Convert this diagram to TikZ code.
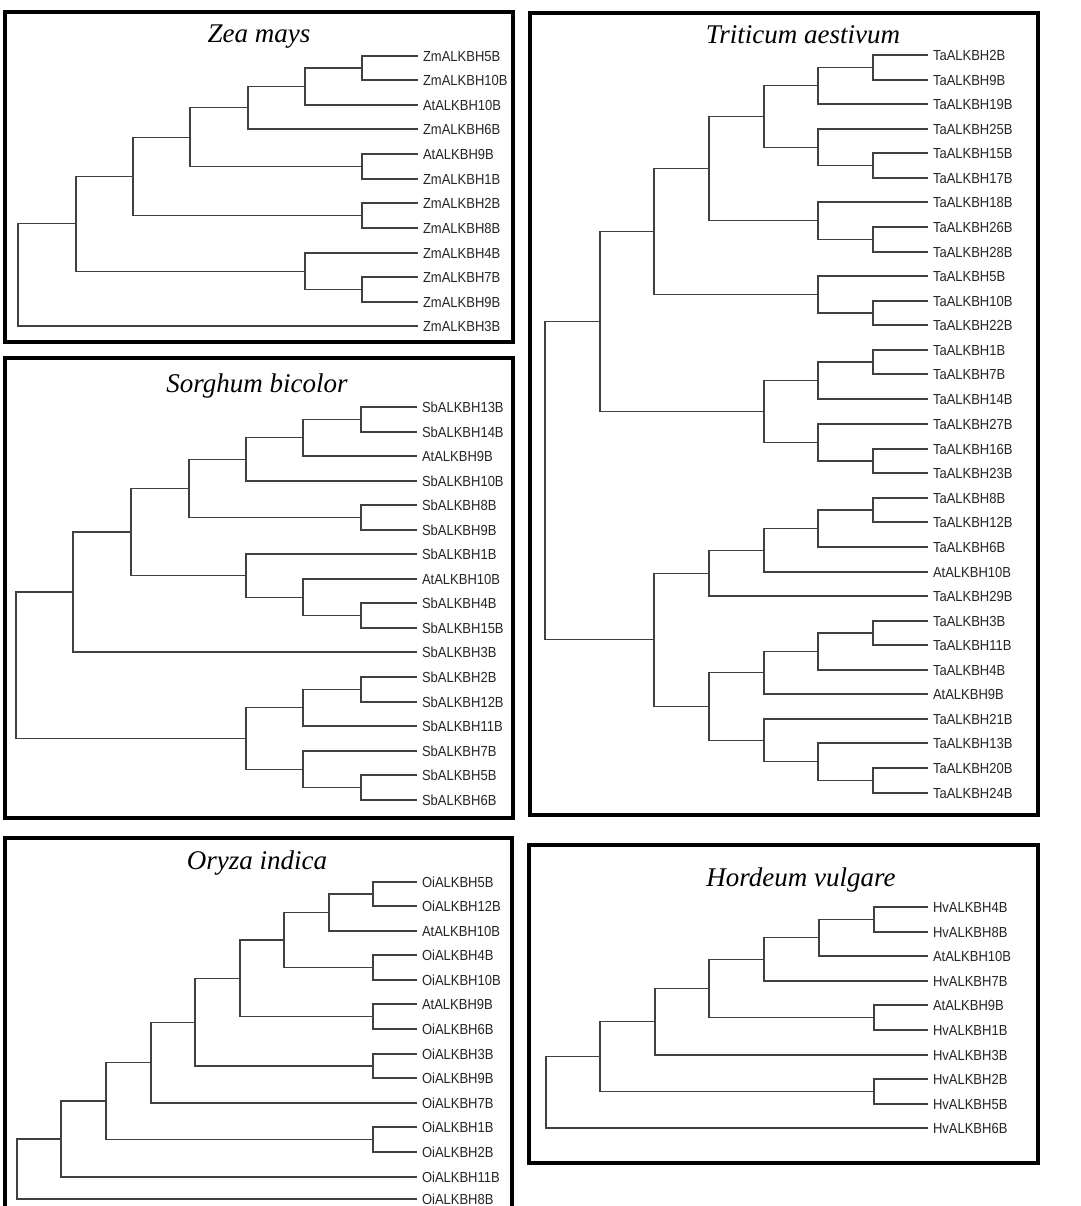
\documentclass[tikz,border=0pt]{standalone}
\usepackage{fontspec}
\setmainfont{Liberation Serif}
\newfontfamily\labfont{Liberation Sans}
\usetikzlibrary{calc}
\tikzset{
 lab/.style={anchor=west, inner sep=0pt, outer xsep=5pt, font=\labfont\fontsize{13}{13}\selectfont, text=black!85, text height=9.3pt, text depth=0pt, yscale=1.12},
 br/.style={draw=black!75, line width=1.2pt},
 frame/.style={draw=black, line width=3.5pt},
 ttl/.style={anchor=base, font=\itshape\fontsize{27}{27}\selectfont, inner sep=0pt}
}
\newcommand\mkleaf[4]{%
  \coordinate (#1) at (#2,#3);
  \node[lab] (#1t) at (#1) {#4};}
\newcommand\mkclade[4]{%
  \path let \p1=($(#3)!0.5!(#4)$) in (#2pt,\y1) coordinate (#1);
  \draw[br] (#1) |- (#3) (#1) |- (#4);}
\begin{document}
\begin{tikzpicture}[x=1pt,y=-1pt]
\fill[white] (0,0) rectangle (1080,1206);
\clip (0,0) rectangle (1080,1206);
% ---------- Zea mays ----------
\draw[frame] (5,12) rectangle (513,342);
\node[ttl] (zT) at (259,43) {Zea mays};
\mkleaf{z1}{418}{56}{ZmALKBH5B}
\mkleaf{z2}{418}{80}{ZmALKBH10B}
\mkleaf{z3}{418}{105}{AtALKBH10B}
\mkleaf{z4}{418}{129}{ZmALKBH6B}
\mkleaf{z5}{418}{154}{AtALKBH9B}
\mkleaf{z6}{418}{179}{ZmALKBH1B}
\mkleaf{z7}{418}{203}{ZmALKBH2B}
\mkleaf{z8}{418}{228}{ZmALKBH8B}
\mkleaf{z9}{418}{253}{ZmALKBH4B}
\mkleaf{z10}{418}{277}{ZmALKBH7B}
\mkleaf{z11}{418}{302}{ZmALKBH9B}
\mkleaf{z12}{418}{326}{ZmALKBH3B}
\mkclade{za}{362}{z1}{z2}
\mkclade{zb}{305}{za}{z3}
\mkclade{zc}{248}{zb}{z4}
\mkclade{zd}{362}{z5}{z6}
\mkclade{ze}{190}{zc}{zd}
\mkclade{zf}{362}{z7}{z8}
\mkclade{zg}{133}{ze}{zf}
\mkclade{zh}{362}{z10}{z11}
\mkclade{zi}{305}{z9}{zh}
\mkclade{zj}{76}{zg}{zi}
\mkclade{zr}{18}{zj}{z12}
% ---------- Sorghum bicolor ----------
\draw[frame] (5,358) rectangle (513,818);
\node[ttl] (sT) at (257,392) {Sorghum bicolor};
\mkleaf{s1}{417}{407}{SbALKBH13B}
\mkleaf{s2}{417}{432}{SbALKBH14B}
\mkleaf{s3}{417}{456}{AtALKBH9B}
\mkleaf{s4}{417}{481}{SbALKBH10B}
\mkleaf{s5}{417}{505}{SbALKBH8B}
\mkleaf{s6}{417}{530}{SbALKBH9B}
\mkleaf{s7}{417}{554}{SbALKBH1B}
\mkleaf{s8}{417}{579}{AtALKBH10B}
\mkleaf{s9}{417}{603}{SbALKBH4B}
\mkleaf{s10}{417}{628}{SbALKBH15B}
\mkleaf{s11}{417}{652}{SbALKBH3B}
\mkleaf{s12}{417}{677}{SbALKBH2B}
\mkleaf{s13}{417}{702}{SbALKBH12B}
\mkleaf{s14}{417}{726}{SbALKBH11B}
\mkleaf{s15}{417}{751}{SbALKBH7B}
\mkleaf{s16}{417}{775}{SbALKBH5B}
\mkleaf{s17}{417}{800}{SbALKBH6B}
\mkclade{sa}{361}{s1}{s2}
\mkclade{sb}{303}{sa}{s3}
\mkclade{sc}{246}{sb}{s4}
\mkclade{sd}{361}{s5}{s6}
\mkclade{se}{189}{sc}{sd}
\mkclade{sf}{361}{s9}{s10}
\mkclade{sg}{303}{s8}{sf}
\mkclade{sh}{246}{s7}{sg}
\mkclade{si}{131}{se}{sh}
\mkclade{sj}{73}{si}{s11}
\mkclade{sk}{361}{s12}{s13}
\mkclade{sl}{303}{sk}{s14}
\mkclade{sm}{361}{s16}{s17}
\mkclade{sn}{303}{s15}{sm}
\mkclade{so}{246}{sl}{sn}
\mkclade{sr}{16}{sj}{so}
% ---------- Triticum aestivum ----------
\draw[frame] (530,13) rectangle (1038,815);
\node[ttl] (tT) at (803,44) {Triticum aestivum};
\mkleaf{t1}{928}{55}{TaALKBH2B}
\mkleaf{t2}{928}{80}{TaALKBH9B}
\mkleaf{t3}{928}{104}{TaALKBH19B}
\mkleaf{t4}{928}{129}{TaALKBH25B}
\mkleaf{t5}{928}{153}{TaALKBH15B}
\mkleaf{t6}{928}{178}{TaALKBH17B}
\mkleaf{t7}{928}{202}{TaALKBH18B}
\mkleaf{t8}{928}{227}{TaALKBH26B}
\mkleaf{t9}{928}{252}{TaALKBH28B}
\mkleaf{t10}{928}{276}{TaALKBH5B}
\mkleaf{t11}{928}{301}{TaALKBH10B}
\mkleaf{t12}{928}{325}{TaALKBH22B}
\mkleaf{t13}{928}{350}{TaALKBH1B}
\mkleaf{t14}{928}{374}{TaALKBH7B}
\mkleaf{t15}{928}{399}{TaALKBH14B}
\mkleaf{t16}{928}{424}{TaALKBH27B}
\mkleaf{t17}{928}{449}{TaALKBH16B}
\mkleaf{t18}{928}{473}{TaALKBH23B}
\mkleaf{t19}{928}{498}{TaALKBH8B}
\mkleaf{t20}{928}{522}{TaALKBH12B}
\mkleaf{t21}{928}{547}{TaALKBH6B}
\mkleaf{t22}{928}{572}{AtALKBH10B}
\mkleaf{t23}{928}{596}{TaALKBH29B}
\mkleaf{t24}{928}{621}{TaALKBH3B}
\mkleaf{t25}{928}{645}{TaALKBH11B}
\mkleaf{t26}{928}{670}{TaALKBH4B}
\mkleaf{t27}{928}{694}{AtALKBH9B}
\mkleaf{t28}{928}{719}{TaALKBH21B}
\mkleaf{t29}{928}{743}{TaALKBH13B}
\mkleaf{t30}{928}{768}{TaALKBH20B}
\mkleaf{t31}{928}{793}{TaALKBH24B}
\mkclade{ta}{873}{t1}{t2}
\mkclade{tb}{818}{ta}{t3}
\mkclade{tc}{873}{t5}{t6}
\mkclade{td}{818}{t4}{tc}
\mkclade{te}{764}{tb}{td}
\mkclade{tf}{873}{t8}{t9}
\mkclade{tg}{818}{t7}{tf}
\mkclade{th}{709}{te}{tg}
\mkclade{ti}{873}{t11}{t12}
\mkclade{tj}{818}{t10}{ti}
\mkclade{tk}{654}{th}{tj}
\mkclade{tl}{873}{t13}{t14}
\mkclade{tm}{818}{tl}{t15}
\mkclade{tn}{873}{t17}{t18}
\mkclade{tO}{818}{t16}{tn}
\mkclade{tp}{764}{tm}{tO}
\mkclade{tq}{600}{tk}{tp}
\mkclade{tr}{873}{t19}{t20}
\mkclade{ts}{818}{tr}{t21}
\mkclade{tt}{764}{ts}{t22}
\mkclade{tu}{709}{tt}{t23}
\mkclade{tv}{873}{t24}{t25}
\mkclade{tw}{818}{tv}{t26}
\mkclade{tx}{764}{tw}{t27}
\mkclade{ty}{873}{t30}{t31}
\mkclade{tz}{818}{t29}{ty}
\mkclade{taa}{764}{t28}{tz}
\mkclade{tab}{709}{tx}{taa}
\mkclade{tac}{654}{tu}{tab}
\mkclade{troot}{545}{tq}{tac}
% ---------- Oryza indica ----------
\draw[frame] (5,838) rectangle (512,1230);
\node[ttl] (oT) at (257,869) {Oryza indica};
\mkleaf{o1}{417}{882}{OiALKBH5B}
\mkleaf{o2}{417}{906}{OiALKBH12B}
\mkleaf{o3}{417}{931}{AtALKBH10B}
\mkleaf{o4}{417}{955}{OiALKBH4B}
\mkleaf{o5}{417}{980}{OiALKBH10B}
\mkleaf{o6}{417}{1004}{AtALKBH9B}
\mkleaf{o7}{417}{1029}{OiALKBH6B}
\mkleaf{o8}{417}{1054}{OiALKBH3B}
\mkleaf{o9}{417}{1078}{OiALKBH9B}
\mkleaf{o10}{417}{1103}{OiALKBH7B}
\mkleaf{o11}{417}{1127}{OiALKBH1B}
\mkleaf{o12}{417}{1152}{OiALKBH2B}
\mkleaf{o13}{417}{1177}{OiALKBH11B}
\mkleaf{o14}{417}{1199}{OiALKBH8B}
\mkclade{oa}{373}{o1}{o2}
\mkclade{ob}{329}{oa}{o3}
\mkclade{oc}{373}{o4}{o5}
\mkclade{od}{284}{ob}{oc}
\mkclade{oe}{373}{o6}{o7}
\mkclade{of}{240}{od}{oe}
\mkclade{og}{373}{o8}{o9}
\mkclade{oh}{195}{of}{og}
\mkclade{oi}{151}{oh}{o10}
\mkclade{oj}{373}{o11}{o12}
\mkclade{ok}{106}{oi}{oj}
\mkclade{ol}{61}{ok}{o13}
\mkclade{om}{17}{ol}{o14}
% ---------- Hordeum vulgare ----------
\draw[frame] (529,845) rectangle (1038,1163);
\node[ttl] (hT) at (801,886) {Hordeum vulgare};
\mkleaf{h1}{928}{907}{HvALKBH4B}
\mkleaf{h2}{928}{932}{HvALKBH8B}
\mkleaf{h3}{928}{956}{AtALKBH10B}
\mkleaf{h4}{928}{981}{HvALKBH7B}
\mkleaf{h5}{928}{1005}{AtALKBH9B}
\mkleaf{h6}{928}{1030}{HvALKBH1B}
\mkleaf{h7}{928}{1055}{HvALKBH3B}
\mkleaf{h8}{928}{1079}{HvALKBH2B}
\mkleaf{h9}{928}{1104}{HvALKBH5B}
\mkleaf{h10}{928}{1128}{HvALKBH6B}
\mkclade{ha}{874}{h1}{h2}
\mkclade{hb}{819}{ha}{h3}
\mkclade{hc}{764}{hb}{h4}
\mkclade{hd}{874}{h5}{h6}
\mkclade{he}{709}{hc}{hd}
\mkclade{hf}{655}{he}{h7}
\mkclade{hg}{874}{h8}{h9}
\mkclade{hh}{600}{hf}{hg}
\mkclade{hr}{546}{hh}{h10}
\end{tikzpicture}
\end{document}
